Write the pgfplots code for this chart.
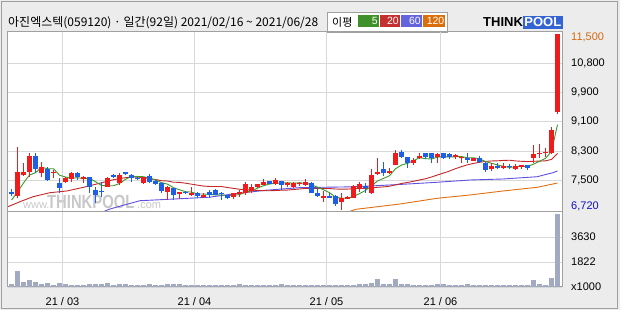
\documentclass[border=0pt]{standalone}
\usepackage{fontspec}
\setmainfont{Liberation Sans}
\newfontfamily\kr{Noto Sans CJK KR}
\usepackage{pgfplots}
\usepackage{pgfplotstable}
\pgfplotsset{compat=1.18}
\definecolor{bgc}{HTML}{ECECEC}
\definecolor{framec}{HTML}{A0A0A0}
\definecolor{gridc}{HTML}{D8D8D8}
\definecolor{cred}{HTML}{EE1C1C}
\definecolor{cblue}{HTML}{1E5FE6}
\definecolor{ma5}{HTML}{3C9A28}
\definecolor{ma20}{HTML}{C42828}
\definecolor{ma60}{HTML}{6050E0}
\definecolor{ma120}{HTML}{E07010}
\definecolor{volc}{HTML}{A2AAC2}
\definecolor{lblo}{HTML}{D06A10}
\definecolor{lblb}{HTML}{1010C8}
\definecolor{lgg}{HTML}{3F8F2A}
\definecolor{lgr}{HTML}{C43030}
\definecolor{lgp}{HTML}{6464DC}
\definecolor{lgo}{HTML}{DC6E0A}
\definecolor{logob}{HTML}{3464D4}
\definecolor{wmc}{HTML}{C8C8C8}

% x L H bl bt  (up days, red)
\pgfplotstableread{
x L H bl bt
1 7058 8448 7113 7749
2 7654 7998 7681 7771
3 7635 8285 7771 8196
5 7635 8025 7727 7906
7 7592 7817 7727 7771
9 7457 7635 7500 7592
10 7500 7754 7565 7727
12 7457 7650 7565 7635
16 7350 7635 7365 7592
18 7411 7727 7473 7681
22 7440 7640 7457 7619
26 7004 7380 7229 7365
28 7023 7229 7167 7213
30 7120 7365 7140 7186
32 7050 7186 7077 7140
37 7023 7200 7094 7186
38 7094 7275 7159 7213
39 7140 7500 7186 7438
40 7186 7438 7256 7365
41 7340 7450 7348 7438
42 7400 7565 7411 7500
44 7411 7592 7438 7546
46 7348 7500 7411 7457
47 7321 7500 7365 7457
48 7384 7500 7430 7473
49 7384 7565 7411 7500
52 6958 7256 7067 7121
55 6720 7186 6958 7067
56 7030 7110 7040 7094
57 7060 7400 7067 7383
58 7229 7500 7321 7438
60 7180 7836 7194 7681
61 7681 8134 7708 7763
63 7700 7863 7727 7798
64 7940 8358 7952 8285
67 7952 8134 8014 8088
68 8107 8269 8134 8196
71 8014 8265 8161 8250
74 8107 8250 8170 8200
75 7998 8196 8134 8161
77 8050 8150 8069 8134
80 7798 7998 7852 7925
82 7836 7998 7879 7925
84 7830 7979 7836 7925
85 7836 7960 7906 7952
87 7998 8494 8134 8250
88 8134 8521 8242 8277
89 8177 8404 8269 8312
90 8260 8989 8269 8900
91 9333 11500 9396 11500
}\upc

% down days, blue
\pgfplotstableread{
x L H bl bt
0 7113 7302 7159 7229
4 7744 8285 7836 8196
6 7530 7890 7546 7836
8 7186 7592 7321 7457
11 7546 7763 7635 7744
13 7186 7630 7365 7619
14 6915 7365 7140 7275
15 7094 7500 7213 7256
17 7610 7708 7635 7681
19 7690 7770 7700 7754
20 7500 7700 7608 7681
21 7540 7620 7565 7608
23 7457 7708 7500 7654
24 7420 7550 7438 7527
25 7194 7490 7248 7473
27 7004 7340 7140 7321
29 7170 7240 7186 7213
31 7050 7229 7113 7186
33 7050 7275 7140 7229
34 7130 7290 7140 7275
35 7004 7229 7167 7202
36 7040 7150 7050 7140
43 7430 7530 7438 7519
45 7275 7530 7411 7519
50 7190 7500 7202 7457
51 7094 7321 7121 7202
53 7050 7186 7067 7121
54 6850 7130 6896 7113
59 7202 7457 7337 7383
62 7654 8042 7727 7836
65 8134 8358 8177 8304
66 7863 8180 7998 8161
69 8107 8285 8161 8269
70 7998 8285 8134 8269
72 8120 8285 8134 8269
73 8107 8290 8161 8250
76 7998 8269 8088 8134
78 7998 8196 8025 8134
79 7771 8030 7817 8014
81 7836 7998 7871 7933
83 7836 7971 7890 7925
86 7817 7960 7863 7952
}\downc

\pgfplotstableread{
x v
0 7004
1 7221
2 7465
3 7681
4 7742
5 7892
6 7851
7 7851
8 7676
9 7627
10 7591
11 7609
12 7582
13 7591
14 7500
15 7398
16 7389
17 7389
18 7452
19 7564
20 7643
21 7638
22 7635
23 7598
24 7546
25 7474
26 7434
27 7338
28 7281
29 7230
30 7218
31 7168
32 7168
33 7153
34 7144
35 7140
36 7127
37 7137
38 7151
39 7211
40 7250
41 7328
42 7391
43 7436
44 7457
45 7467
46 7470
47 7462
48 7469
49 7460
50 7418
51 7351
52 7283
53 7202
54 7081
55 7054
56 7049
57 7101
58 7176
59 7264
60 7387
61 7520
62 7589
63 7661
64 7851
65 7950
66 7997
67 8069
68 8149
69 8124
70 8115
71 8166
72 8175
73 8168
74 8175
75 8180
76 8148
77 8148
78 8121
79 8045
80 7998
81 7954
82 7913
83 7886
84 7907
85 7913
86 7911
87 7976
88 8051
89 8132
90 8322
91 9047
}\mafive

\pgfplotstableread{
x v
-0.58 6823
1.4 6958
3.6 7094
6.4 7202
9.2 7248
12 7348
15 7470
17 7555
19 7609
20 7631
21 7622
22 7614
23 7579
24 7559
25 7527
26 7518
27 7486
28 7481
29 7460
30 7433
31 7407
32 7382
33 7371
34 7371
35 7369
36 7342
37 7319
38 7296
39 7283
40 7271
41 7264
42 7258
43 7255
44 7261
45 7269
46 7273
47 7289
48 7302
49 7318
50 7319
51 7319
52 7318
53 7315
54 7302
55 7297
56 7300
57 7309
58 7321
59 7316
60 7331
61 7348
62 7359
63 7377
64 7414
65 7452
66 7479
67 7511
68 7547
69 7580
70 7627
71 7683
72 7734
73 7788
74 7853
75 7908
76 7958
77 7995
78 8025
79 8049
80 8061
81 8066
82 8076
83 8081
84 8063
85 8052
86 8045
87 8053
88 8057
89 8065
90 8103
91 8265
}\matwenty

\pgfplotstableread{
x v
14 6600
16.4 6760
21.4 6985
27 7030
33 7080
37 7170
42.5 7270
48.1 7340
56.4 7360
59.75 7383
65.25 7430
70.9 7484
76.4 7546
81.9 7573
87.6 7635
90.25 7744
91 7790
}\masixty

\pgfplotstableread{
x v
55 6620
57.4 6752
64.75 6896
70.9 7050
76.4 7140
81.9 7248
87.6 7348
90.25 7438
91 7465
}\maonetwenty

\pgfplotstableread{
x v
0 240
1 1183
2 341
3 530
4 341
5 240
6 269
7 167
8 269
9 196
10 167
11 123
12 123
13 196
14 196
15 196
16 269
17 167
18 196
19 196
20 123
21 123
22 123
23 196
24 145
25 167
26 196
27 196
28 196
29 123
30 123
31 123
32 123
33 123
34 167
35 123
36 123
37 123
38 196
39 123
40 167
41 123
42 123
43 123
44 123
45 196
46 110
47 110
48 110
49 110
50 110
51 110
52 110
53 110
54 110
55 110
56 110
57 110
58 196
59 196
60 269
61 581
62 196
63 196
64 581
65 240
66 196
67 145
68 145
69 145
70 145
71 196
72 196
73 123
74 123
75 123
76 196
77 123
78 123
79 123
80 123
81 123
82 123
83 123
84 123
85 123
86 123
87 486
88 196
89 145
90 632
91 5320
}\vol

\begin{document}
\begin{tikzpicture}
% background and frames
\fill[bgc] (0pt,0pt) rectangle (620pt,310pt);
\draw[framec, line width=0.8pt] (1pt,1.5pt) rectangle (617pt,309pt);
\fill[white] (8pt,23pt) rectangle (562pt,278pt);
% title
\node[anchor=base west, inner sep=0pt] at (8pt,283pt) {\kr\fontsize{12}{13}\selectfont 아진엑스텍(059120) · 일간(92일) 2021/02/16 \textasciitilde{} 2021/06/28};
% legend box
\draw[framec, fill=white, line width=0.8pt] (327pt,278pt) rectangle (447pt,298pt);
\node[anchor=west, inner sep=0pt] at (332pt,288pt) {\kr\fontsize{11}{12}\selectfont 이평};
\fill[lgg] (358pt,283pt) rectangle (379pt,295pt);
\fill[lgr] (380pt,283pt) rectangle (400pt,295pt);
\fill[lgp] (401pt,283pt) rectangle (422pt,295pt);
\fill[lgo] (423pt,283pt) rectangle (445pt,295pt);
\node[anchor=east, inner sep=0pt, text=white] at (378pt,289pt) {\fontsize{10.5}{11}\selectfont 5};
\node[anchor=east, inner sep=0pt, text=white] at (399pt,289pt) {\fontsize{10.5}{11}\selectfont 20};
\node[anchor=east, inner sep=0pt, text=white] at (421pt,289pt) {\fontsize{10.5}{11}\selectfont 60};
\node[anchor=east, inner sep=0pt, text=white] at (444.5pt,289pt) {\fontsize{10.5}{11}\selectfont 120};
% logo
\node[anchor=base west, inner sep=0pt] at (483pt,283pt) {\fontsize{13}{13}\selectfont\bfseries THINK\setlength{\fboxsep}{1.5pt}\colorbox{logob}{\textcolor{white}{POOL}}};
% watermark
\node[anchor=base west, inner sep=0pt, text=wmc] at (23pt,101pt) {\fontsize{11}{11}\selectfont www.};
\node[anchor=base west, inner sep=0pt, text=wmc, xscale=0.78] at (47pt,101pt) {\fontsize{19}{19}\selectfont\bfseries THINKPOOL};
\node[anchor=base west, inner sep=0pt, text=wmc] at (137pt,101pt) {\fontsize{11}{11}\selectfont .com};

\begin{axis}[
  at={(8pt,98pt)}, anchor=south west, scale only axis,
  width=554pt, height=180pt,
  xmin=-0.583, xmax=91.75, ymin=6679.4, ymax=11553.8,
  scaled ticks=false,
  axis line style={draw=framec, line width=1pt},
  xtick={8.5,30.5,52.5,71.5}, xticklabels={},
  ytick={7527,8312,9125,9910,10706},
  yticklabels={{7,500},{8,300},{9,100},{9,900},{10,800}},
  extra y ticks={6823,11410},
  extra y tick labels={{\textcolor{lblb}{6,720}},{\textcolor{lblo}{11,500}}},
  extra y tick style={grid=none},
  yticklabel pos=right,
  yticklabel style={font=\fontsize{11}{12}\selectfont, anchor=west, inner sep=0pt, xshift=9pt},
  xmajorgrids, ymajorgrids,
  grid style={draw=gridc, line width=0.8pt},
  major tick length=0pt,
  clip=true,
]
\addplot[ma120, line width=0.9pt] table[x=x,y=v] {\maonetwenty};
\addplot[ma60, line width=0.9pt] table[x=x,y=v] {\masixty};
\addplot[ma20, line width=0.9pt] table[x=x,y=v] {\matwenty};
\addplot[ma5, line width=0.9pt] table[x=x,y=v] {\mafive};
% wicks
\addplot[draw=none, no markers, error bars/.cd, y dir=plus, y explicit, error mark=none,
  error bar style={draw=cred, line width=1pt}]
  table[x=x, y=L, y error expr=\thisrow{H}-\thisrow{L}] {\upc};
\addplot[draw=none, no markers, error bars/.cd, y dir=plus, y explicit, error mark=none,
  error bar style={draw=cblue, line width=1pt}]
  table[x=x, y=L, y error expr=\thisrow{H}-\thisrow{L}] {\downc};
% bodies
\addplot[draw=none, no markers, error bars/.cd, y dir=plus, y explicit, error mark=none,
  error bar style={draw=cred, line width=4.4pt}]
  table[x=x, y=bl, y error expr={max(\thisrow{bt}-\thisrow{bl},40)}] {\upc};
\addplot[draw=none, no markers, error bars/.cd, y dir=plus, y explicit, error mark=none,
  error bar style={draw=cblue, line width=4.4pt}]
  table[x=x, y=bl, y error expr={max(\thisrow{bt}-\thisrow{bl},40)}] {\downc};
\end{axis}

\begin{axis}[
  at={(8pt,23pt)}, anchor=south west, scale only axis,
  width=554pt, height=75pt,
  xmin=-0.583, xmax=91.75, ymin=0, ymax=5445,
  scaled ticks=false,
  axis line style={draw=framec, line width=1pt},
  xtick={8.5,30.5,52.5,71.5},
  xticklabels={21 / 03,21 / 04,21 / 05,21 / 06},
  xticklabel style={font=\fontsize{11}{12}\selectfont, yshift=-7pt},
  ytick={0,1822,3630},
  yticklabels={x1000,1822,3630},
  yticklabel pos=right,
  yticklabel style={font=\fontsize{11}{12}\selectfont, anchor=west, inner sep=0pt, xshift=9pt},
  xmajorgrids, ymajorgrids,
  grid style={draw=gridc, line width=0.8pt},
  major tick length=0pt,
]
\addplot[ycomb, draw=volc, line width=4.6pt] table[x=x,y=v] {\vol};
\end{axis}
\pgfresetboundingbox
\useasboundingbox (0pt,0pt) rectangle (620pt,310pt);
\end{tikzpicture}
\end{document}
